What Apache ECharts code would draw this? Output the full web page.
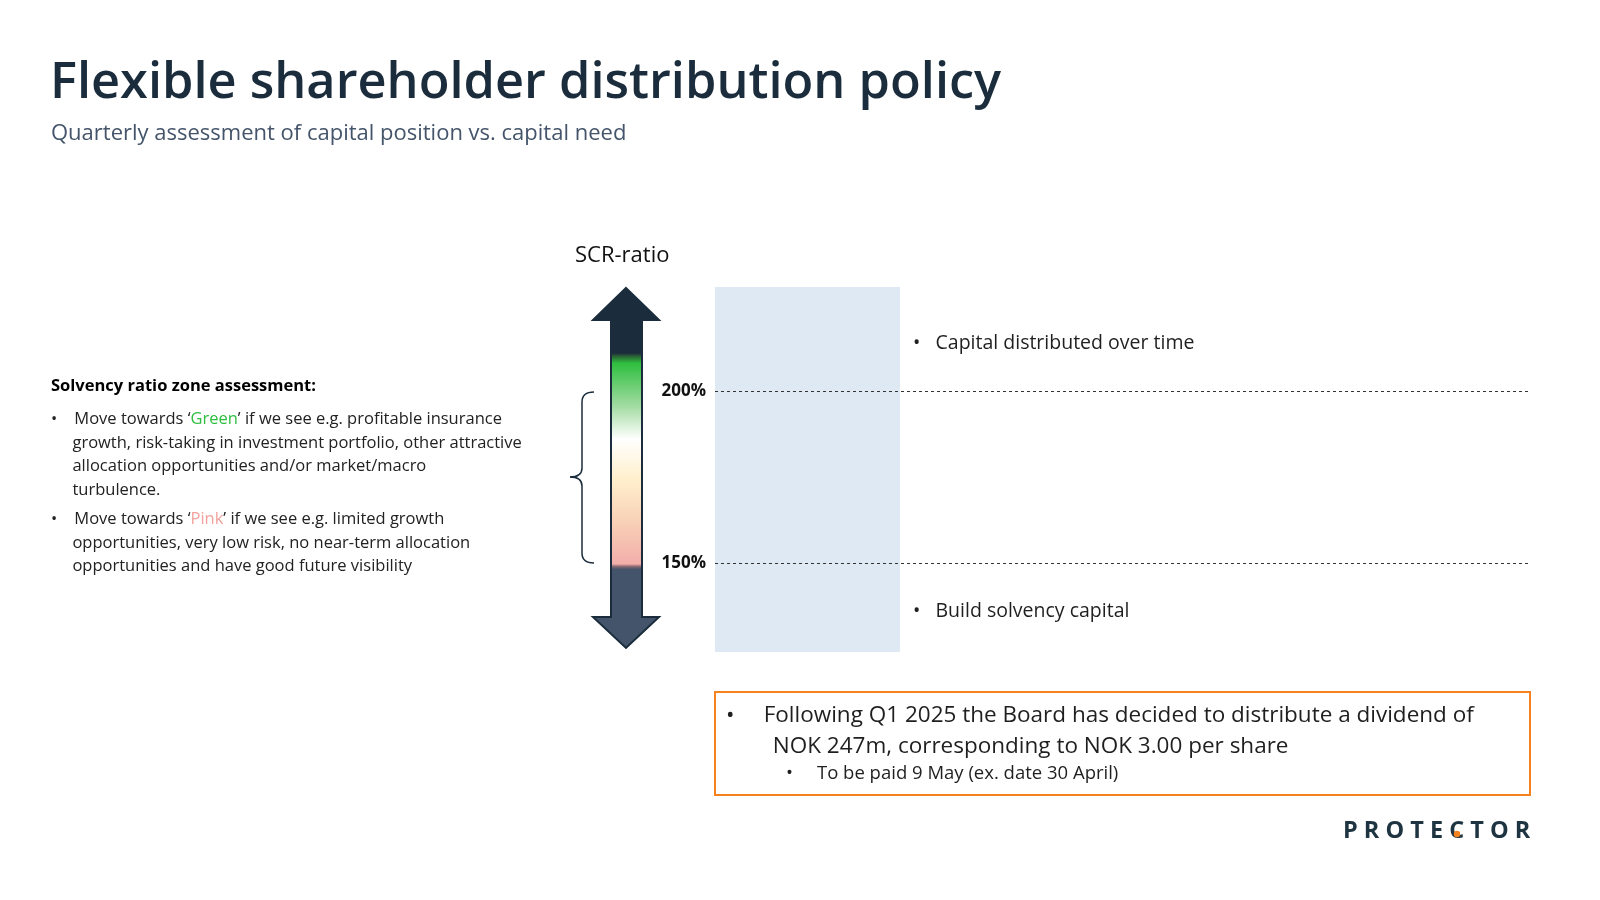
<!DOCTYPE html>
<html><head><meta charset="utf-8">
<script src="https://cdn.jsdelivr.net/npm/echarts@6/dist/echarts.min.js"></script>
<style>html,body{margin:0;padding:0;background:#fff}#c{width:1600px;height:900px}</style>
</head><body><div id="c"></div>
<script>
const thresholds = [150, 200];
const thresholdLabels = ['150%', '200%'];
const zoneLabels = ['Capital distributed over time', 'Build solvency capital'];
const bandRange = [0, 22.7];

const chart = echarts.init(document.getElementById('c'));
const F = '"Open Sans", sans-serif';
const dark = '#1b2d3c';
function txt(x, y, t, s, o) {
  return {type:'text', x:x, y:y, style:Object.assign({text:t, font:s+'px '+F, fill:'#1f1f1f'}, o||{})};
}
const ln = (x1,y1,x2,y2) => ({type:'line', shape:{x1,y1,x2,y2}, style:{stroke:dark, lineWidth:1.5}});
const bz = (x1,y1,cx,cy,x2,y2) => ({type:'bezierCurve', shape:{x1,y1,cpx1:cx,cpy1:cy,x2,y2}, style:{stroke:dark, lineWidth:1.5, fill:'none'}});

chart.setOption({
  animation:false,
  grid:{left:715, right:70, top:287, bottom:248},
  xAxis:{type:'value', min:0, max:100, show:false},
  yAxis:{type:'value', min:124.1, max:230.2, show:false},
  series:[{
    type:'line', data:[[0,100]], symbol:'none', lineStyle:{opacity:0}, silent:true,
    markArea:{silent:true, itemStyle:{color:'#dfe9f3'}, data:[[{xAxis:bandRange[0], yAxis:124.1},{xAxis:bandRange[1], yAxis:230.2}]]},
    markLine:{silent:true, symbol:'none', lineStyle:{type:[3,3], color:'#333', width:1},
      label:{position:'start', formatter:p=>p.name, fontFamily:F, fontWeight:'bold', fontSize:17, color:'#111', distance:9},
      data:thresholds.map((v,i)=>({name:thresholdLabels[i], yAxis:v}))}
  }],
  graphic:[
    txt(50, 58, 'Flexible shareholder distribution policy', 50.5, {fill:dark, font:'600 50.5px '+F}),
    txt(51, 123, 'Quarterly assessment of capital position vs. capital need', 22, {fill:'#44546a'}),
    txt(575, 245, 'SCR-ratio', 22, {fill:'#111'}),
    {type:'polygon', shape:{points:[[626,288],[659,320],[642,320],[642,617],[659,617],[626,648],[593,617],[611,617],[611,320],[593,320]]},
      style:{stroke:dark, lineWidth:2, fill:{type:'linear', x:0, y:0, x2:0, y2:1, colorStops:[
        {offset:0, color:dark},{offset:0.183, color:dark},{offset:0.19, color:'#2a5a35'},{offset:0.21, color:'#2fbf3f'},
        {offset:0.33, color:'#a3dca3'},{offset:0.42, color:'#ffffff'},{offset:0.53, color:'#fff0cc'},
        {offset:0.64, color:'#f9d3b8'},{offset:0.765, color:'#f2aeaa'},{offset:0.772, color:'#8a6a72'},{offset:0.78, color:'#44546a'},{offset:1, color:'#44546a'}]}}},
    bz(594,392,582,392,582,402), ln(582,402,582,468), bz(582,468,582,477,570,477),
    bz(570,477,582,477,582,486), ln(582,486,582,553), bz(582,553,582,563,594,563),
    txt(51, 378, 'Solvency ratio zone assessment:', 16.5, {font:'bold 16.5px '+F, fill:'#000'}),
    {type:'text', x:51, y:408, style:{font:'16.5px '+F, fill:'#222', lineHeight:23.5,
      text:'•    Move towards ‘{g|Green}’ if we see e.g. profitable insurance\n     growth, risk-taking in investment portfolio, other attractive\n     allocation opportunities and/or market/macro\n     turbulence.',
      rich:{g:{font:'16.5px '+F, fill:'#2fbf3f'}}}},
    {type:'text', x:51, y:508, style:{font:'16.5px '+F, fill:'#222', lineHeight:23.5,
      text:'•    Move towards ‘{p|Pink}’ if we see e.g. limited growth\n     opportunities, very low risk, no near-term allocation\n     opportunities and have good future visibility',
      rich:{p:{font:'16.5px '+F, fill:'#f2a29c'}}}},
    txt(913, 333, '•   ' + zoneLabels[0], 19.5),
    txt(913, 601, '•   ' + zoneLabels[1], 19.5),
    {type:'rect', shape:{x:715, y:692, width:815, height:103}, style:{fill:'none', stroke:'#f5821f', lineWidth:2}},
    {type:'text', x:726, y:700, style:{font:'22.5px '+F, fill:'#1f1f1f', lineHeight:31,
      text:'•     Following Q1 2025 the Board has decided to distribute a dividend of\n        NOK 247m, corresponding to NOK 3.00 per share'}},
    txt(786, 764, '•     To be paid 9 May (ex. date 30 April)', 18.5),
    txt(1343, 819, 'P R O T E C T O R', 23.5, {font:'bold 23.5px '+F, fill:'#1e3441'}),
    {type:'circle', shape:{cx:1457, cy:834, r:3.2}, style:{fill:'#f5821f'}}
  ]
});
</script></body></html>
